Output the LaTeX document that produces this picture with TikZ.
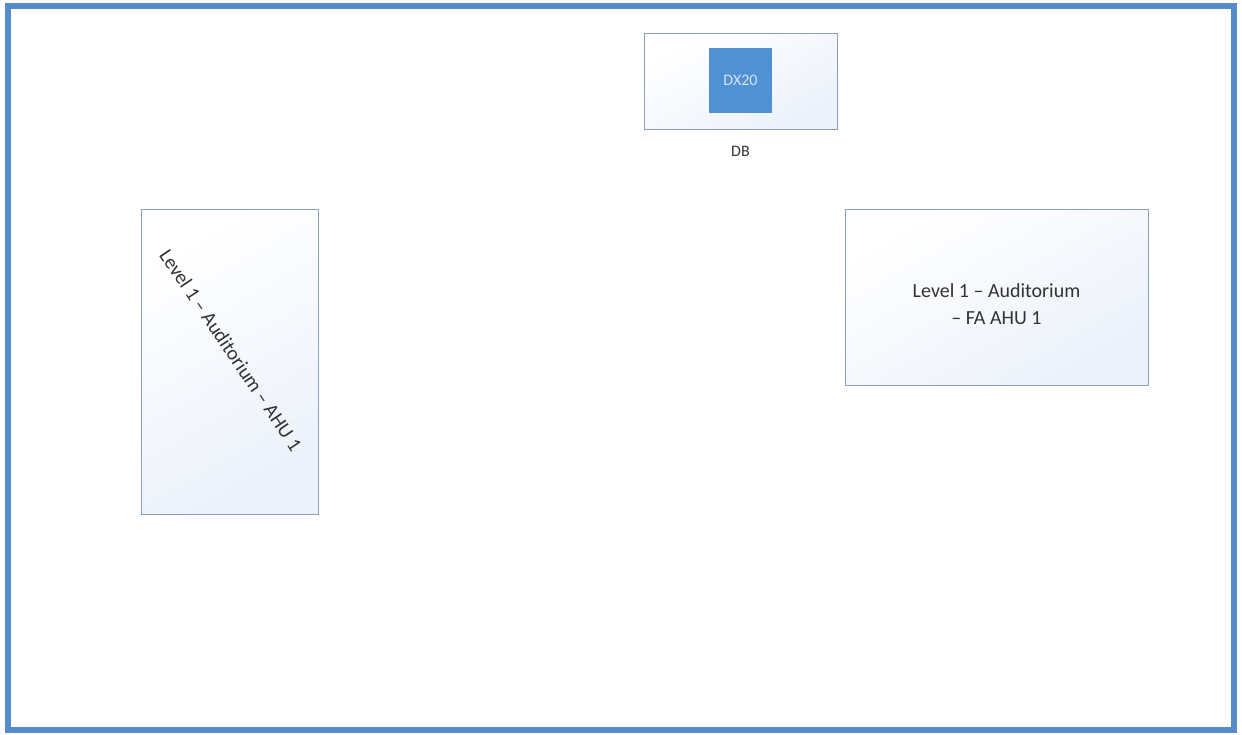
\documentclass[tikz,border=0pt]{standalone}
\usepackage{fontspec}
\setmainfont{Carlito}
\definecolor{frameblue}{RGB}{84,140,205}
\definecolor{boxedge}{RGB}{140,160,185}
\definecolor{boxtint}{RGB}{236,241,250}
\definecolor{dxblue}{RGB}{80,145,212}
\tikzset{
  unitbox/.style={draw=boxedge, line width=1pt, top color=white, bottom color=boxtint, shading angle=30},
  dxbox/.style={fill=dxblue, draw=none, text=white!75!dxblue, font=\fontsize{16}{18}\selectfont},
  label text/.style={font=\fontsize{20}{27}\selectfont, text=black!80}
}
\begin{document}
\begin{tikzpicture}[x=1pt,y=-1pt]
  \useasboundingbox (0,0) rectangle (1242,735);
  % Outer frame
  \draw[frameblue, line width=6pt] (8,6) rectangle (1234,730);
  % Distribution board
  \node[unitbox, minimum width=193pt, minimum height=96pt] (db) at (740.5,82) {};
  \node[dxbox, minimum width=63pt, minimum height=65pt] (dx) at (740.5,80.5) {DX20};
  \node[font=\fontsize{16}{18}\selectfont, text=black!80] (dblabel) at (740.5,151) {DB};
  % Left-hand unit
  \node[unitbox, minimum width=177pt, minimum height=304pt] (ahu) at (229.5,362) {};
  \node[label text, rotate=-56] (ahutext) at (231,350) {Level 1 – Auditorium – AHU 1};
  % Right-hand unit
  \node[unitbox, minimum width=303pt, minimum height=175pt] (faahu) at (996.5,297.5) {};
  \node[label text, align=center] (faahutext) at (996.5,304) {Level 1 – Auditorium\\– FA AHU 1};
\end{tikzpicture}
\end{document}
